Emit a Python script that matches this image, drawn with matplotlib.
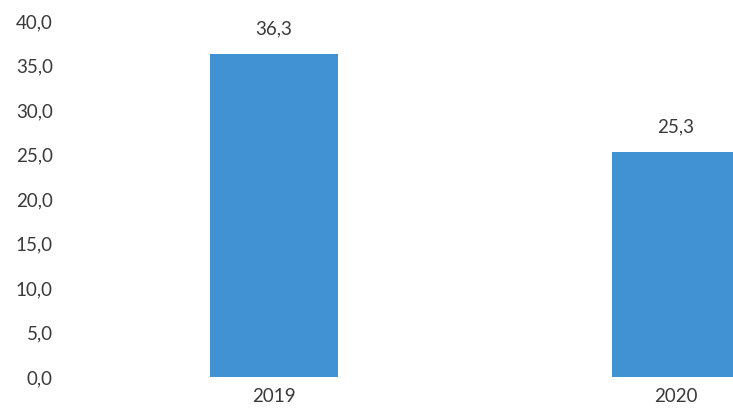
import matplotlib.pyplot as plt

years = ["2019", "2020"]
values = [36.3, 25.3]
yticks = [0, 5, 10, 15, 20, 25, 30, 35, 40]

BAR_COLOR = "#4092d2"
TEXT_COLOR = "#3a3a3a"

plt.rcParams["font.family"] = ["Lato", "DejaVu Sans"]

fig = plt.figure(figsize=(7.33, 4.16), dpi=100)
# axis area runs past the right edge, so the 2020 bar is cut off
ax = fig.add_axes([75 / 733, 39 / 416, 1 - 75 / 733, 356 / 416])

pos = [0, 1.01]
ax.bar(pos, values, width=0.32, color=BAR_COLOR)

for x, v in zip(pos, values):
    ax.annotate(f"{v:.1f}".replace(".", ","), (x, v),
                xytext=(0, 12), textcoords="offset points",
                ha="center", va="bottom", fontsize=13.5, color=TEXT_COLOR)

ax.set_xlim(-0.5, 1.153)
ax.set_ylim(0, 40)
ax.set_xticks(pos)
ax.set_xticklabels(years)
ax.set_yticks(yticks)
ax.set_yticklabels([f"{t:.1f}".replace(".", ",") for t in yticks])
ax.tick_params(length=0, labelsize=13.5, labelcolor=TEXT_COLOR)
ax.tick_params(axis="y", pad=16)
ax.tick_params(axis="x", pad=8)
for s in ax.spines.values():
    s.set_visible(False)

fig.savefig("out.png", dpi=100)
